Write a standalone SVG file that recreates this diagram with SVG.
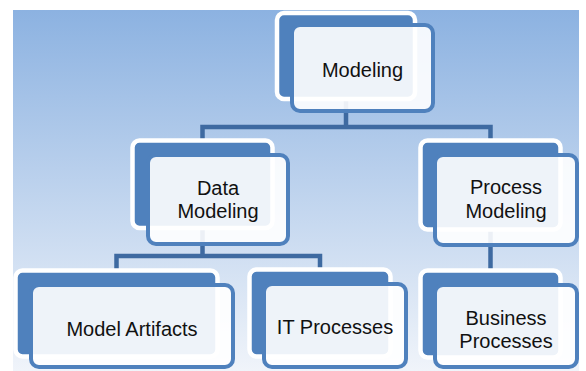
<svg xmlns="http://www.w3.org/2000/svg" width="586" height="371" viewBox="0 0 586 371">
<defs>
<linearGradient id="bg" x1="0" y1="0" x2="0" y2="1">
<stop offset="0" stop-color="#8cb2e1"/>
<stop offset="1" stop-color="#f0f4fa"/>
</linearGradient>
<style>
.back{fill:#4f81bd;stroke:#ffffff;stroke-width:4.5}
.front{fill:#ffffff;fill-opacity:0.9;stroke:#4f81bd;stroke-width:4}
.lbl{font-family:"Liberation Sans",Arial,sans-serif;font-size:20px;fill:#111111;text-anchor:middle}
.conn{fill:none;stroke:#3e6aa1;stroke-width:4.5}
</style>
</defs>
<rect x="0" y="0" width="586" height="371" fill="#ffffff"/>
<rect x="13" y="10" width="566" height="361" fill="url(#bg)"/>
<g id="connectors">
<path class="conn" d="M346,99 V127 M202.5,140 V127 H490.5 V140"/>
<path class="conn" d="M202.5,228 V256 M116.5,270 V256 H320 V269"/>
<path class="conn" d="M490.5,229 V270"/>
</g>
<g id="n-modeling">
<rect class="back" x="277" y="13" width="138" height="86" rx="7"/>
<rect class="front" x="292" y="25" width="141" height="86" rx="8"/>
<text class="lbl" x="362.5" y="77">Modeling</text>
</g>
<g id="n-data-modeling">
<rect class="back" x="132.5" y="140.5" width="140" height="87.5" rx="7"/>
<rect class="front" x="148" y="155" width="140" height="89" rx="8"/>
<text class="lbl" x="218" y="195">Data</text>
<text class="lbl" x="218" y="218">Modeling</text>
</g>
<g id="n-process-modeling">
<rect class="back" x="420.5" y="140.5" width="140" height="89" rx="7"/>
<rect class="front" x="435" y="155" width="142" height="90" rx="8"/>
<text class="lbl" x="506" y="194">Process</text>
<text class="lbl" x="506" y="218">Modeling</text>
</g>
<g id="n-model-artifacts">
<rect class="back" x="15.5" y="270.5" width="202" height="86" rx="7"/>
<rect class="front" x="31" y="285" width="202" height="82" rx="8"/>
<text class="lbl" x="132" y="336">Model Artifacts</text>
</g>
<g id="n-it-processes">
<rect class="back" x="249.5" y="269.5" width="141" height="87" rx="7"/>
<rect class="front" x="264" y="284" width="142" height="83" rx="8"/>
<text class="lbl" x="335" y="334">IT Processes</text>
</g>
<g id="n-business-processes">
<rect class="back" x="420.5" y="270.5" width="140" height="87" rx="7"/>
<rect class="front" x="435" y="285" width="142" height="82" rx="8"/>
<text class="lbl" x="506" y="325">Business</text>
<text class="lbl" x="506" y="348">Processes</text>
</g>
</svg>
